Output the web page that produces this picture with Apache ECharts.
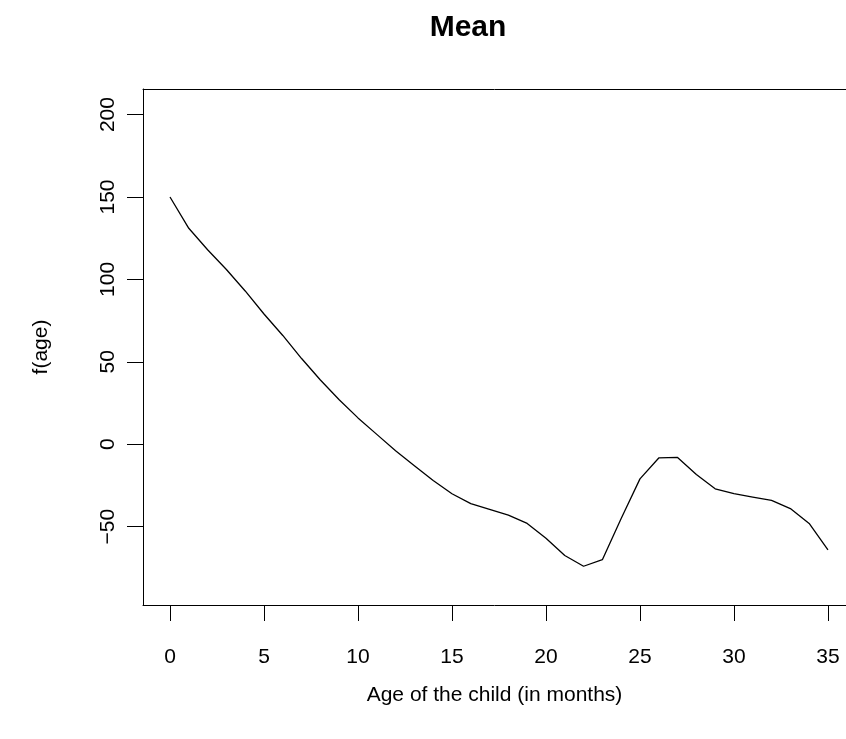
<!doctype html>
<html lang="en">
<head>
    <meta charset="UTF-8">
    <title>Mean</title>
    <script src="https://cdn.jsdelivr.net/npm/echarts@6/dist/echarts.min.js"></script>
    <style>
        html, body { margin: 0; padding: 0; background: #fff; }
    </style>
</head>
<body>
<div id="main" style="width:846px; height:739px;"></div>

<script>
    // months of age and the estimated mean effect
    var ages = [0, 1, 2, 3, 4, 5, 6, 7, 8, 9, 10, 11, 12, 13, 14, 15, 16, 17,
                18, 19, 20, 21, 22, 23, 24, 25, 26, 27, 28, 29, 30, 31, 32, 33, 34, 35];
    var meanEffect = [150, 131, 118, 106, 93, 79, 66, 52, 39, 27, 16, 6, -4, -13, -22, -30, -36, -39.5,
                      -43, -48, -57, -67.5, -74, -70, -45, -21, -8.3, -8, -18.4, -27, -30, -32, -34, -39, -48, -64];
    var xTicks = [0, 5, 10, 15, 20, 25, 30, 35];
    var yTicks = [-50, 0, 50, 100, 150, 200];

    var font = "'Liberation Sans', Arial, Helvetica, sans-serif";

    var points = [];
    for (var i = 0; i < ages.length; i++) {
        points.push([ages[i], meanEffect[i]]);
    }

    var myChart = echarts.init(document.getElementById('main'));
    myChart.setOption({
        animation: false,
        backgroundColor: '#fff',
        title: {
            text: 'Mean',
            left: 463,
            textAlign: 'center',
            top: 8,
            textStyle: {
                fontFamily: font,
                fontSize: 30,
                fontWeight: 'bold',
                color: '#000'
            }
        },
        // the plot box runs past the right edge of the picture
        grid: {
            left: 143,
            top: 89,
            right: 0,
            height: 516
        },
        xAxis: [{
            type: 'value',
            min: -1.436,
            max: 35.96,
            name: 'Age of the child (in months)',
            nameLocation: 'middle',
            nameGap: 80,
            nameTextStyle: { fontFamily: font, fontSize: 21, color: '#000' },
            splitLine: { show: false },
            axisLine: { show: true, onZero: false, lineStyle: { color: '#000', width: 1 } },
            axisTick: {
                show: true,
                length: 16,
                customValues: xTicks,
                lineStyle: { color: '#000', width: 1 }
            },
            axisLabel: {
                customValues: xTicks,
                margin: 42,
                fontFamily: font,
                fontSize: 21,
                color: '#000'
            }
        }, {
            // top edge of the box
            type: 'value',
            position: 'top',
            min: -1.436,
            max: 35.96,
            splitLine: { show: false },
            axisLine: { show: true, onZero: false, lineStyle: { color: '#000', width: 1 } },
            axisTick: { show: false },
            axisLabel: { show: false }
        }],
        yAxis: {
            type: 'value',
            min: -97.5,
            max: 215.5,
            name: 'f(age)',
            nameLocation: 'middle',
            nameGap: 91,
            nameRotate: 90,
            nameTextStyle: { fontFamily: font, fontSize: 21, color: '#000' },
            splitLine: { show: false },
            axisLine: { show: true, onZero: false, lineStyle: { color: '#000', width: 1 } },
            axisTick: {
                show: true,
                length: 16,
                customValues: yTicks,
                lineStyle: { color: '#000', width: 1 }
            },
            axisLabel: {
                customValues: yTicks,
                rotate: 90,
                margin: 24,
                fontFamily: font,
                fontSize: 21,
                color: '#000',
                formatter: function (v) { return v < 0 ? '\u2212' + Math.abs(v) : String(v); }
            }
        },
        series: [
            {
                name: 'Mean',
                type: 'line',
                xAxisIndex: 0,
                data: points,
                showSymbol: false,
                lineStyle: { color: '#000', width: 1.3 }
            }
        ]
    });
</script>
</body>
</html>
